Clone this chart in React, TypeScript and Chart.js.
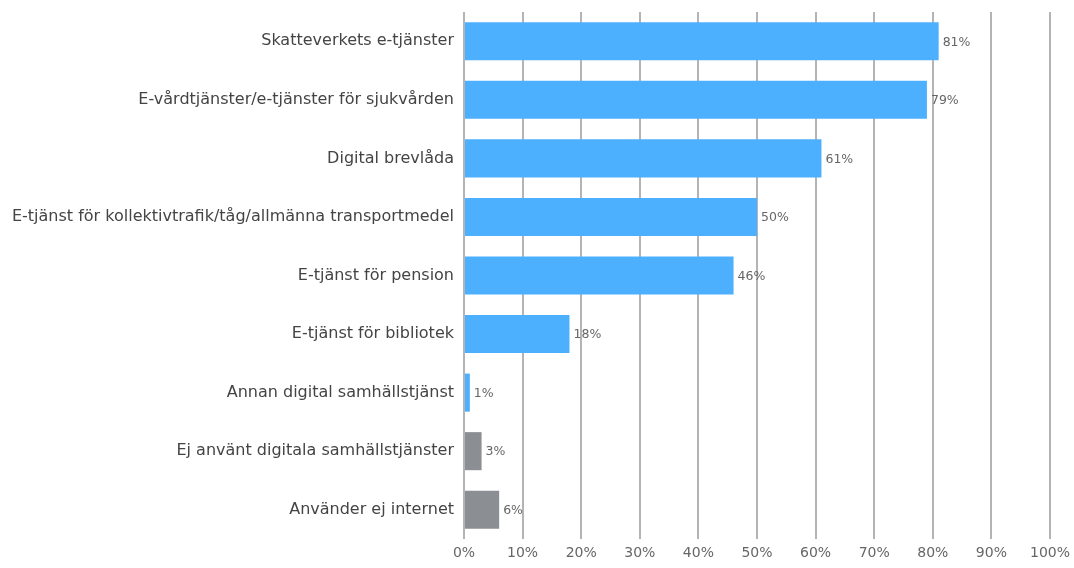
import React, { useEffect, useRef } from "react";
import { Chart, registerables } from "chart.js";

Chart.register(...registerables);

const categories = [
  "Skatteverkets e-tjänster",
  "E-vårdtjänster/e-tjänster för sjukvården",
  "Digital brevlåda",
  "E-tjänst för kollektivtrafik/tåg/allmänna transportmedel",
  "E-tjänst för pension",
  "E-tjänst för bibliotek",
  "Annan digital samhällstjänst",
  "Ej använt digitala samhällstjänster",
  "Använder ej internet",
];
const values = [81, 79, 61, 50, 46, 18, 1, 3, 6];
const barColors = [
  "#4db0ff", "#4db0ff", "#4db0ff", "#4db0ff", "#4db0ff", "#4db0ff", "#4db0ff",
  "#8b8e92", "#8b8e92",
];
const xTicks = [0, 10, 20, 30, 40, 50, 60, 70, 80, 90, 100];

const FONT = "'DejaVu Sans', 'Noto Sans', sans-serif";

const valueLabels = {
  id: "valueLabels",
  afterDatasetsDraw(chart: any) {
    const ctx = chart.ctx;
    const meta = chart.getDatasetMeta(0);
    ctx.save();
    ctx.font = `12.5px ${FONT}`;
    ctx.fillStyle = "#666666";
    ctx.textAlign = "left";
    ctx.textBaseline = "middle";
    meta.data.forEach((bar: any, i: number) => {
      ctx.fillText(`${values[i]}%`, bar.x + 4, bar.y + 1);
    });
    ctx.restore();
  },
};

export default function App() {
  const ref = useRef<HTMLCanvasElement>(null);
  useEffect(() => {
    if (!ref.current) return;
    const chart = new Chart(ref.current, {
      type: "bar",
      data: {
        labels: categories,
        datasets: [
          {
            data: values,
            backgroundColor: barColors,
            borderWidth: 0,
            categoryPercentage: 1,
            barPercentage: 0.65,
          },
        ],
      },
      options: {
        indexAxis: "y",
        animation: false,
        responsive: false,
        layout: { padding: { top: 12, right: 24, left: 0, bottom: 0 } },
        plugins: { legend: { display: false }, tooltip: { enabled: false } },
        scales: {
          x: {
            min: 0,
            max: 100,
            afterBuildTicks(scale: any) {
              scale.ticks = xTicks.map((v) => ({ value: v }));
            },
            afterFit(scale: any) {
              scale.height = 29;
              scale.paddingLeft = 0;
              scale.paddingRight = 0;
            },
            ticks: {
              callback: (v: any) => `${v}%`,
              color: "#666666",
              font: { family: FONT, size: 14 },
              padding: 6,
              maxRotation: 0,
            },
            grid: {
              color: "#b4b4b8",
              lineWidth: 2,
              drawTicks: false,
            },
            border: { display: false },
          },
          y: {
            afterFit(scale: any) {
              scale.width = 464;
              scale.paddingTop = 0;
              scale.paddingBottom = 0;
            },
            ticks: {
              color: "#444444",
              font: { family: FONT, size: 16 },
              padding: 10,
            },
            grid: { display: false, drawTicks: false },
            border: { display: false },
          },
        },
      },
      plugins: [valueLabels],
    });
    return () => chart.destroy();
  }, []);
  return (
    <div style={{ position: "fixed", left: 0, top: 0, width: 1074, height: 568, background: "#fff" }}>
      <canvas ref={ref} width={1074} height={568} />
    </div>
  );
}
